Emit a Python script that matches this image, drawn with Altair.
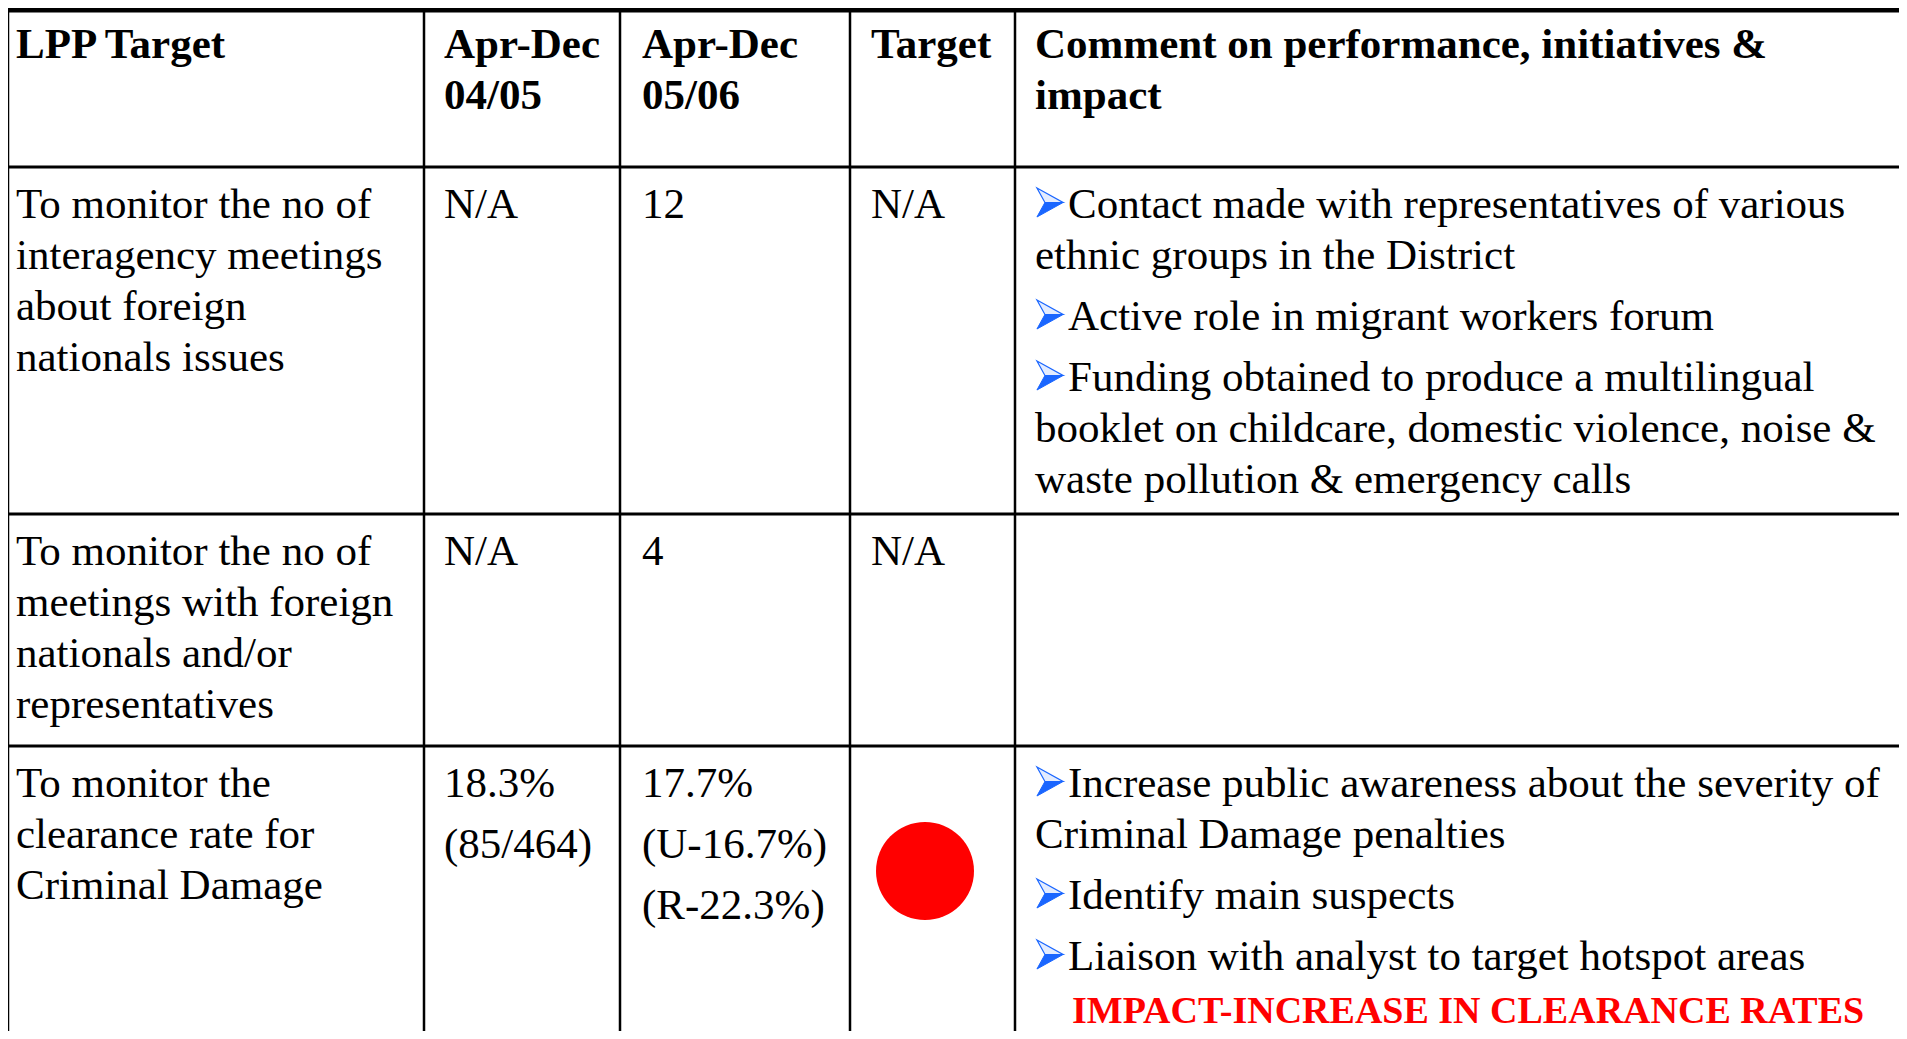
import altair as alt
import pandas as pd

# ---------------- table data ----------------
headers = [
    ["LPP Target"],
    ["Apr-Dec", "04/05"],
    ["Apr-Dec", "05/06"],
    ["Target"],
    ["Comment on performance, initiatives &", "impact"],
]

# each cell: list of paragraphs, each paragraph a list of lines
lpp_target = [
    [["To monitor the no of", "interagency meetings", "about foreign", "nationals issues"]],
    [["To monitor the no of", "meetings with foreign", "nationals and/or", "representatives"]],
    [["To monitor the", "clearance rate for", "Criminal Damage"]],
]
apr_dec_0405 = [
    [["N/A"]],
    [["N/A"]],
    [["18.3%"], ["(85/464)"]],
]
apr_dec_0506 = [
    [["12"]],
    [["4"]],
    [["17.7%"], ["(U-16.7%)"], ["(R-22.3%)"]],
]
target = [
    [["N/A"]],
    [["N/A"]],
    [],
]
status = [None, None, "#ff0000"]

comments = [
    [
        ["Contact made with representatives of various", "ethnic groups in the District"],
        ["Active role in migrant workers forum"],
        ["Funding obtained to produce a multilingual",
         "booklet on childcare, domestic violence, noise &",
         "waste pollution & emergency calls"],
    ],
    [],
    [
        ["Increase public awareness about the severity of", "Criminal Damage penalties"],
        ["Identify main suspects"],
        ["Liaison with analyst to target hotspot areas"],
    ],
]
impact = [None, None, "IMPACT-INCREASE IN CLEARANCE RATES"]

# ---------------- layout (reference pixel units) ----------------
col_lines = [8.5, 424, 620, 850, 1015]
col_text_x = [16, 444, 642, 871, 1035]
bullet_text_x = 1068
bullet_x = 1050
impact_x = 1072
dot_dx = 75
dot_diam = 98
right_edge = 1907
top_edge = 10
bottom_edge = 1039
header_top = 7
row_tops = [167, 514, 746]
LINE = 51
FIRST = 51
PARA = 10
IMPACT_GAP = 53

# ---------------- build tables ----------------
rules_h = pd.DataFrame({
    "x": [0] * 4,
    "x2": [right_edge] * 4,
    "y": [top_edge] + row_tops,
    "w": [5, 3, 3, 3],
})
rules_v = pd.DataFrame({
    "x": col_lines,
    "y": [top_edge] * len(col_lines),
    "y2": [bottom_edge] * len(col_lines),
    "w": [1.5, 2.5, 2.5, 2.5, 2.5],
})

hdr_rows = []
for ci, lines in enumerate(headers):
    for li, t in enumerate(lines):
        hdr_rows.append({"x": col_text_x[ci], "y": header_top + FIRST + li * LINE, "t": t})
hdr = pd.DataFrame(hdr_rows)


def cell_lines(paras, top, x, bx=None):
    out, bullets = [], []
    n = 0
    for pi, para in enumerate(paras):
        for li, t in enumerate(para):
            y = top + FIRST + n * LINE + pi * PARA
            xx = x
            if bx is not None and li == 0:
                xx = bx
                bullets.append({"x": bullet_x, "y": y - 15.5})
            out.append({"x": xx, "y": y, "t": t})
            n += 1
    return out, bullets


body_rows, bullet_rows, impact_rows, dot_rows = [], [], [], []
for ri, top in enumerate(row_tops):
    for ci, col in enumerate([lpp_target, apr_dec_0405, apr_dec_0506, target]):
        r, _ = cell_lines(col[ri], top, col_text_x[ci])
        body_rows += r
    r, b = cell_lines(comments[ri], top, col_text_x[4], bullet_text_x)
    body_rows += r
    bullet_rows += b
    if impact[ri]:
        last_y = max(rr["y"] for rr in r)
        impact_rows.append({"x": impact_x, "y": last_y + IMPACT_GAP, "t": impact[ri]})
    if status[ri]:
        dot_rows.append({"x": col_lines[3] + dot_dx, "y": top + 125, "c": status[ri]})

body = pd.DataFrame(body_rows)
bul = pd.DataFrame(bullet_rows)
imp = pd.DataFrame(impact_rows)
dots = pd.DataFrame(dot_rows)

# ---------------- scales: reference pixels -> page pixels ----------------
W, H = 1891, 1023
xs = alt.Scale(domain=[8, 8 + W], nice=False, zero=False)
ys = alt.Scale(domain=[8, 8 + H], nice=False, zero=False, reverse=True)
X = lambda f: alt.X(f, scale=xs, axis=None)
Y = lambda f: alt.Y(f, scale=ys, axis=None)
FONT = "Liberation Serif"

hlines = alt.Chart(rules_h).mark_rule(color="black").encode(
    x=X("x:Q"), x2="x2:Q", y=Y("y:Q"), strokeWidth=alt.StrokeWidth("w:Q", scale=None)
)
vlines = alt.Chart(rules_v).mark_rule(color="black").encode(
    x=X("x:Q"), y=Y("y:Q"), y2="y2:Q", strokeWidth=alt.StrokeWidth("w:Q", scale=None)
)
hdr_text = alt.Chart(hdr).mark_text(
    font=FONT, fontSize=43, fontWeight="bold", align="left", baseline="alphabetic", color="black"
).encode(x=X("x:Q"), y=Y("y:Q"), text="t:N")
body_text = alt.Chart(body).mark_text(
    font=FONT, fontSize=43, align="left", baseline="alphabetic", color="black"
).encode(x=X("x:Q"), y=Y("y:Q"), text="t:N")
imp_text = alt.Chart(imp).mark_text(
    font=FONT, fontSize=38, fontWeight="bold", align="left", baseline="alphabetic", color="#ff0000"
).encode(x=X("x:Q"), y=Y("y:Q"), text="t:N")

arrow_top = "M -0.9 -1 L 0.9 0 L -0.35 0 Z"
arrow_bot = "M -0.35 0 L 0.9 0 L -0.9 1 Z"
bul_top = alt.Chart(bul).mark_point(
    shape=arrow_top, size=841, filled=True, fill="#e3ecff", stroke="#1a66ff", strokeWidth=1.2, opacity=1
).encode(x=X("x:Q"), y=Y("y:Q"))
bul_bot = alt.Chart(bul).mark_point(
    shape=arrow_bot, size=841, filled=True, fill="#1a66ff", stroke="#1a66ff", strokeWidth=1, opacity=1
).encode(x=X("x:Q"), y=Y("y:Q"))
# Vega symbol size is the area of the bounding square: diameter = sqrt(size)
dot = alt.Chart(dots).mark_circle(size=dot_diam * dot_diam, opacity=1).encode(
    x=X("x:Q"), y=Y("y:Q"), color=alt.Color("c:N", scale=None)
)

chart = alt.layer(hlines, vlines, hdr_text, body_text, imp_text, bul_top, bul_bot, dot).properties(
    width=W, height=H, padding=0, autosize=alt.AutoSizeParams(type="none")
).configure_view(stroke=None)

chart.save("out.html", embed_options={"renderer": "svg", "actions": False})
